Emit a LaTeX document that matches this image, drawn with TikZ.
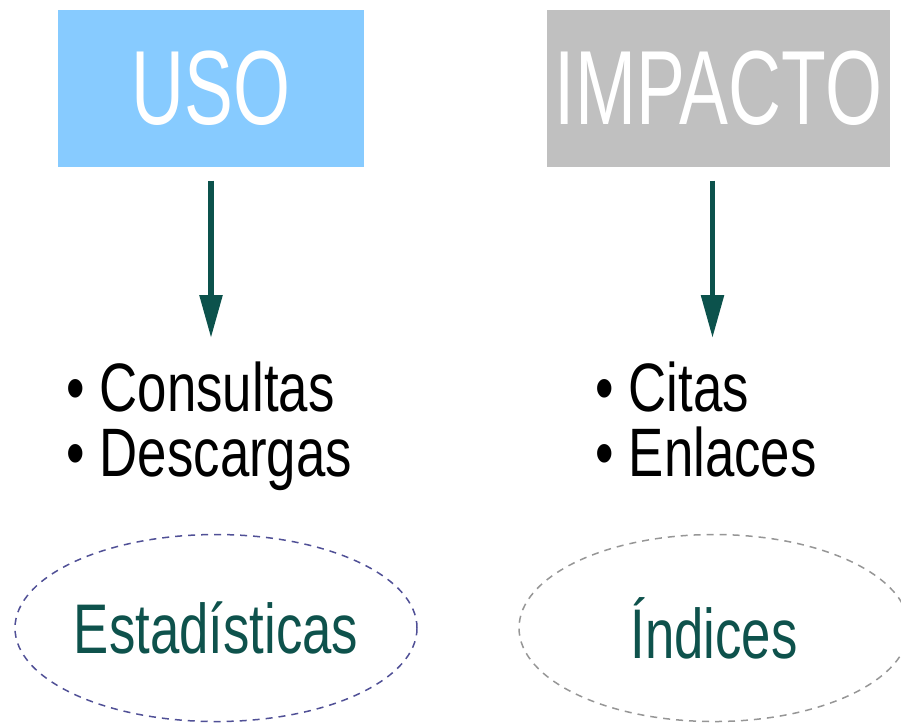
\documentclass[tikz,border=0pt]{standalone}
\usepackage{fontspec}
\setmainfont{Liberation Sans}
\newfontfamily\titlefont{Liberation Sans}[FakeStretch=0.695]
\newfontfamily\itemfont{Liberation Sans}[FakeStretch=0.77]
\newfontfamily\tagfont{Liberation Sans}[FakeStretch=0.75]
\usetikzlibrary{arrows.meta,shapes.geometric}
\definecolor{usoblue}{RGB}{135,203,255}
\definecolor{impactogray}{RGB}{192,192,192}
\definecolor{tealarrow}{RGB}{12,82,76}
\definecolor{tealtext}{RGB}{14,82,76}
\definecolor{ovalblue}{RGB}{80,80,150}
\definecolor{ovalgray}{RGB}{150,150,150}

\begin{document}
\begin{tikzpicture}[x=0.1mm,y=-0.1mm,
	titlebox/.style={minimum height=15.7mm, inner sep=0pt, text=white, font=\titlefont\fontsize{30pt}{30pt}\selectfont},
	itemlist/.style={anchor=north west, align=left, inner sep=0pt, font=\itemfont\fontsize{19.5pt}{18.5pt}\selectfont},
	tagoval/.style={ellipse, draw, dash pattern=on 0.7mm off 0.6mm, line width=0.15mm, minimum height=18.7mm, inner sep=0pt, text=tealtext, font=\tagfont\fontsize{20pt}{20pt}\selectfont},
	linkarrow/.style={-{Triangle[width=2.2mm,length=4.3mm]}, line width=0.55mm, draw=tealarrow}]
			%%%%% START %%%%%
			\useasboundingbox (0,0) rectangle (901,723);
			
			\node[titlebox, fill=usoblue, minimum width=30.6mm] (uso) at (211,88.5) {USO};
			\node[titlebox, fill=impactogray, minimum width=34.3mm] (impacto) at (718.5,88.5) {IMPACTO};
			
			\node[itemlist] (usolist) at (66,361) {\textbullet\ Consultas\\ \textbullet\ Descargas};
			\node[itemlist] (impactolist) at (595,361) {\textbullet\ Citas\\ \textbullet\ Enlaces};
			
			\draw[linkarrow, shorten >=2.3mm] ([yshift=-1.3mm]uso.south) -- (uso.south |- usolist.north);
			\draw[linkarrow, shorten >=2.3mm] ([xshift=-0.6mm,yshift=-1.3mm]impacto.south) -- ([xshift=-0.6mm]impacto.south |- impactolist.north);
			
			\node[tagoval, draw=ovalblue, minimum width=40.2mm] (estadisticas) at (216,628) {Estadísticas};
			\node[tagoval, draw=ovalgray, minimum width=39mm] (indices) at (714,628) {Índices};
			%%%%% END %%%%%
\end{tikzpicture}
\end{document}
